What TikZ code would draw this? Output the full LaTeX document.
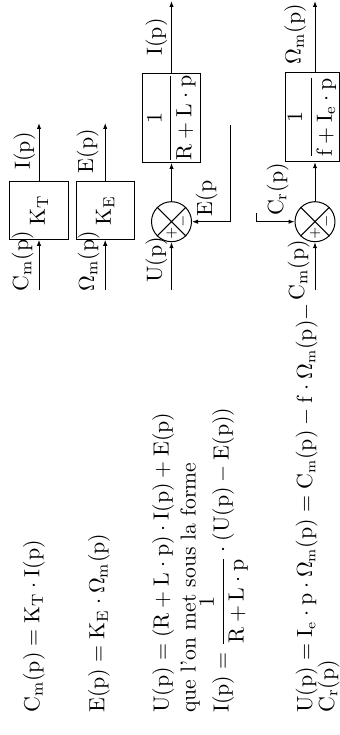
\documentclass[tikz,border=0pt]{standalone}
\usetikzlibrary{arrows.meta}
\tikzset{
  blk/.style={draw, line width=0.5pt, inner sep=0pt, minimum height=29.2pt},
  sumc/.style={draw, line width=0.5pt, circle, inner sep=0pt, minimum size=20pt},
  wire/.style={line width=0.5pt, -{Latex[length=3pt,width=2.2pt]}},
  plain/.style={line width=0.5pt},
  lab/.style={anchor=base, inner sep=0pt},
  eqn/.style={anchor=base west, inner sep=0pt},
  sgn/.style={inner sep=0pt, font=\scriptsize}
}
\begin{document}
\begin{tikzpicture}[x=0.5pt, y=-0.5pt, rotate=90, transform shape, font=\fontsize{10.8}{13}\selectfont]
\useasboundingbox (0,0) rectangle (735,340);
% equations
\node[eqn] (e1) at (22,39.4) {$\mathrm{C_m(p) = K_T\cdot I(p)}$};
\node[eqn] (e2) at (22,104.4) {$\mathrm{E(p) = K_E\cdot \Omega_m(p)}$};
\node[eqn] (e3) at (22,168.7) {$\mathrm{U(p) = (R+L\cdot p)\cdot I(p)+E(p)}$};
\node[eqn] (e4) at (22,195.5) {que l'on met sous la forme};
\node[eqn] (e5) at (22,228.7) {$\mathrm{I(p)} = \displaystyle\frac{1}{\mathrm{R+L\cdot p}}\cdot \mathrm{(U(p)-E(p))}$};
\node[eqn, font=\fontsize{10.5}{13}\selectfont] (e6) at (22,312) {$\mathrm{U(p) = I_e\cdot p\cdot \Omega_m(p) = C_m(p) - f\cdot \Omega_m(p)} -$};
\node[eqn] (e7) at (22,334) {$\mathrm{C_r(p)}$};
% K_T and K_E
\node[blk, minimum width=28.8pt] (kt) at (524.5,39) {$\mathrm{K_T}$};
\node[blk, minimum width=28.8pt] (ke) at (524.5,105.2) {$\mathrm{K_E}$};
\coordinate (ktin) at (445,39);
\coordinate (ktout) at (612,39);
\coordinate (kein) at (445,105.2);
\coordinate (keout) at (612,105.2);
\draw[wire] (ktin) -- (kt.west);
\draw[wire] (kt.east) -- (ktout);
\draw[wire] (kein) -- (ke.west);
\draw[wire] (ke.east) -- (keout);
\node[lab] (lcm1) at (474,28) {$\mathrm{C_m(p)}$};
\node[lab] (li1) at (584,30) {$\mathrm{I(p)}$};
\node[lab] (lom1) at (474,94) {$\mathrm{\Omega_m(p)}$};
\node[lab] (le1) at (584,93) {$\mathrm{E(p)}$};
% electrical loop
\node[sumc] (s1) at (513.3,171.5) {};
\draw[plain] (s1.45) -- (s1.225) (s1.135) -- (s1.315);
\node[sgn] (p1) at (502,171.5) {$+$};
\node[sgn] (m1) at (513.3,183) {$-$};
\node[blk, minimum width=43.9pt] (gr) at (617.2,171.5) {$\displaystyle\frac{1}{\mathrm{R+L\cdot p}}$};
\coordinate (uin) at (445,171.5);
\coordinate (iout) at (734,171.5);
\coordinate (fb) at (610,230);
\draw[wire] (uin) -- (s1.west);
\draw[wire] (s1.east) -- (gr.west);
\draw[wire] (gr.east) -- (iout);
\draw[wire] (fb) -| (s1.south);
\node[lab] (lu) at (475,162) {$\mathrm{U(p)}$};
\node[lab] (li2) at (698,162) {$\mathrm{I(p)}$};
\node[lab] (le2) at (536.5,212) {$\mathrm{E(p}$};
% mechanical loop
\node[sumc] (s2) at (513.3,315) {};
\draw[plain] (s2.45) -- (s2.225) (s2.135) -- (s2.315);
\node[sgn] (p2) at (502,315) {$+$};
\node[sgn] (m2) at (513.3,326.5) {$-$};
\node[blk, minimum width=44.5pt, minimum height=27pt] (gf) at (617.8,312) {$\displaystyle\frac{1}{\mathrm{f+I_e\cdot p}}$};
\coordinate (cmin) at (445,315);
\coordinate (wout) at (734,315);
\coordinate (cr) at (521.7,256.7);
\draw[wire] (cmin) -- (s2.west);
\draw[wire] (s2.east) -- (s2.east -| gf.west);
\draw[wire] (gf.east |- s2.east) -- (wout);
\draw[wire] (cr) -| (s2.north);
\node[lab] (lcm2) at (465,304) {$\mathrm{C_m(p)}$};
\node[lab] (lcr) at (545.5,283) {$\mathrm{C_r(p)}$};
\node[lab] (lom2) at (701,300.5) {$\mathrm{\Omega_m(p)}$};
\end{tikzpicture}
\end{document}
